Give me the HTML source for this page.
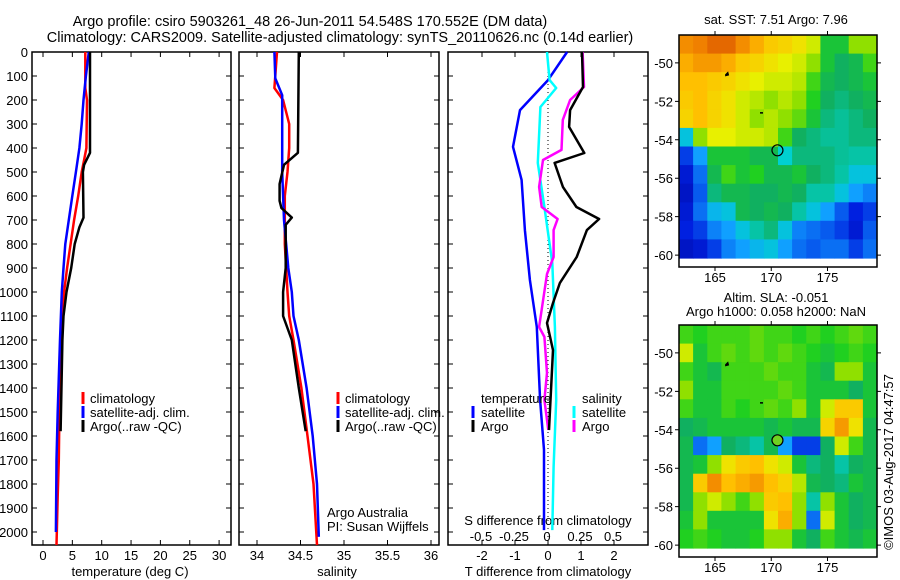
<!DOCTYPE html>
<html><head><meta charset="utf-8"><style>
html,body{margin:0;padding:0;background:#fff}
svg{display:block;font-family:"Liberation Sans",sans-serif;font-size:13px}
.tt{font-size:14.5px}
</style></head><body>
<svg id="fig" width="900" height="580" viewBox="0 0 900 580" xmlns="http://www.w3.org/2000/svg">
<text class="tt" x="310" y="26" text-anchor="middle">Argo profile: csiro 5903261_48 26-Jun-2011 54.548S 170.552E (DM data)</text>
<text class="tt" x="340" y="42" text-anchor="middle">Climatology: CARS2009. Satellite-adjusted climatology: synTS_20110626.nc (0.14d earlier)</text>
<text x="776" y="24" text-anchor="middle">sat. SST: 7.51 Argo: 7.96</text>
<text x="776" y="302" text-anchor="middle">Altim. SLA: -0.051</text>
<text x="776" y="316" text-anchor="middle">Argo h1000: 0.058 h2000: NaN</text>
<text transform="translate(893,462) rotate(-90)" text-anchor="middle">©IMOS 03-Aug-2017 04:47:57</text>
<g id="g"></g>
</svg>
<script>
// ---- data ----
const depthTicks=[0,100,200,300,400,500,600,700,800,900,1000,1100,1200,1300,1400,1500,1600,1700,1800,1900,2000];
const tempTicks=[0,5,10,15,20,25,30];
const salTicks=[34,34.5,35,35.5,36];
const tdiffTicks=[-2,-1,0,1,2];
const sdiffTicks=[-0.5,-0.25,0,0.25,0.5];
const lonTicks=[165,170,175];
const latTicks=[-50,-52,-54,-56,-58,-60];

const tempClimDepth=[0,150,200,400,450,500,600,700,800,900,1000,1200,1500,1700,1850,2054];
const tempClimVal=[7.2,7.2,7.5,7.4,7.0,6.6,6.0,5.3,4.7,4.1,3.6,3.1,2.8,2.7,2.5,2.3];
const tempSatDepth=[0,100,200,300,400,500,600,700,800,900,1000,1200,1500,1700,2000];
const tempSatVal=[7.8,7.3,6.9,6.6,6.2,5.6,5.0,4.4,3.8,3.5,3.2,2.9,2.5,2.3,2.2];
const tempArgoDepth=[0,420,470,500,690,730,800,900,1000,1100,1200,1580];
const tempArgoVal=[8.0,8.0,7.0,6.8,6.9,6.2,5.4,4.8,4.0,3.5,3.3,3.0];

const salClimDepth=[0,150,200,300,400,500,600,800,1000,1100,1200,1400,1600,1800,2054];
const salClimVal=[34.23,34.20,34.30,34.37,34.37,34.35,34.32,34.32,34.35,34.37,34.42,34.51,34.58,34.65,34.69];
const salSatDepth=[0,110,180,300,500,700,900,1000,1100,1200,1400,1600,1800,2020];
const salSatVal=[34.20,34.21,34.29,34.29,34.29,34.31,34.36,34.40,34.42,34.48,34.57,34.64,34.69,34.71];
const salArgoDepth=[0,420,470,550,620,650,690,720,900,1000,1100,1200,1400,1580];
const salArgoVal=[34.48,34.47,34.31,34.26,34.26,34.28,34.40,34.33,34.33,34.30,34.30,34.40,34.48,34.56];

const tdSatDepth=[0,117,242,395,533,742,950,1146,1450,1658,1992];
const tdSatVal=[0.58,0,-0.85,-1.06,-0.8,-0.7,-0.55,-0.34,-0.24,-0.12,-0.12];
const tdArgoDepth=[0,146,242,312,421,462,562,646,696,742,854,962,1046,1129,1242,1575];
const tdArgoVal=[1.03,1.06,0.67,0.64,1.1,0.2,0.45,0.86,1.55,1.18,0.87,0.36,0.15,-0.03,0.15,0.03];
const sdSatDepth=[0,117,150,229,462,646,879,1146,1450,1729,1992];
const sdSatVal=[0,0.02,0.07,-0.05,-0.07,-0.02,0.04,0.06,0.07,0.05,0.04];
const sdArgoDepth=[0,146,200,283,408,450,562,646,696,742,854,925,1146,1187,1337,1450,1575];
const sdArgoVal=[0.27,0.28,0.175,0.12,0.11,-0.03,-0.06,-0.04,0.08,0.05,0.05,0,-0.06,-0.02,0,-0.02,0.01];

const sstGrid=[
[0.8,0.82,0.85,0.85,0.8,0.75,0.7,0.68,0.65,0.6,0.45,0.45,0.55,0.55],
[0.75,0.78,0.78,0.75,0.7,0.68,0.65,0.62,0.6,0.55,0.45,0.4,0.42,0.5],
[0.72,0.72,0.7,0.68,0.65,0.62,0.6,0.6,0.58,0.5,0.42,0.4,0.42,0.45],
[0.7,0.72,0.68,0.65,0.6,0.58,0.55,0.58,0.55,0.48,0.4,0.38,0.4,0.42],
[0.68,0.72,0.68,0.65,0.6,0.55,0.58,0.55,0.52,0.45,0.38,0.36,0.38,0.4],
[0.3,0.55,0.62,0.62,0.6,0.6,0.58,0.5,0.4,0.38,0.36,0.36,0.38,0.38],
[0.15,0.25,0.45,0.45,0.45,0.42,0.42,0.32,0.38,0.38,0.38,0.36,0.35,0.35],
[0.1,0.2,0.42,0.5,0.45,0.48,0.42,0.42,0.45,0.4,0.38,0.35,0.3,0.3],
[0.08,0.18,0.38,0.42,0.42,0.4,0.4,0.42,0.4,0.35,0.35,0.3,0.25,0.22],
[0.1,0.2,0.28,0.3,0.42,0.4,0.42,0.4,0.35,0.3,0.25,0.18,0.12,0.15],
[0.12,0.15,0.22,0.25,0.3,0.35,0.38,0.3,0.22,0.2,0.18,0.15,0.1,0.18],
[0.08,0.1,0.15,0.22,0.25,0.28,0.3,0.25,0.2,0.18,0.2,0.2,0.15,0.2]];
const slaGrid=[
[0.5,0.48,0.5,0.5,0.5,0.52,0.5,0.5,0.48,0.5,0.48,0.5,0.52,0.5],
[0.6,0.45,0.5,0.52,0.5,0.52,0.5,0.52,0.5,0.48,0.45,0.48,0.5,0.48],
[0.5,0.45,0.42,0.5,0.5,0.5,0.52,0.5,0.5,0.45,0.42,0.55,0.55,0.45],
[0.55,0.45,0.45,0.5,0.5,0.5,0.5,0.52,0.5,0.45,0.45,0.45,0.4,0.45],
[0.5,0.45,0.45,0.5,0.48,0.5,0.52,0.5,0.55,0.45,0.6,0.7,0.7,0.45],
[0.4,0.42,0.45,0.45,0.45,0.45,0.42,0.45,0.42,0.42,0.68,0.78,0.65,0.42],
[0.42,0.2,0.25,0.4,0.38,0.35,0.42,0.25,0.15,0.15,0.4,0.6,0.5,0.42],
[0.42,0.45,0.55,0.65,0.7,0.72,0.65,0.6,0.45,0.38,0.4,0.35,0.4,0.42],
[0.42,0.7,0.8,0.72,0.75,0.78,0.72,0.68,0.58,0.42,0.4,0.38,0.45,0.42],
[0.42,0.55,0.6,0.55,0.5,0.55,0.7,0.72,0.55,0.35,0.55,0.45,0.4,0.42],
[0.45,0.55,0.45,0.45,0.45,0.45,0.65,0.75,0.55,0.2,0.6,0.45,0.4,0.42],
[0.48,0.5,0.48,0.45,0.45,0.48,0.55,0.55,0.45,0.4,0.5,0.45,0.42,0.45]];
const argoLon=170.552, argoLat=-54.548;

// ---- drawing ----
const NS="http://www.w3.org/2000/svg";
const G=document.getElementById('g');
function el(tag,attrs,parent,txt){const e=document.createElementNS(NS,tag);for(const k in attrs)e.setAttribute(k,attrs[k]);if(txt!==undefined)e.textContent=txt;(parent||G).appendChild(e);return e;}
const Y0=52,Y1=545;
const yD=d=>Y0+d*0.24;
const panels=[
 {x0:32,x1:231,sx:v=>43+5.87*v,name:'temperature'},
 {x0:239,x1:439,sx:v=>257+87*(v-34),name:'salinity'},
 {x0:448,x1:648,sx:v=>548+33*v,name:'difference'}];
const sxS=v=>547+132*v;

panels.forEach((p,i)=>{
  const r=el('rect',{x:p.x0,y:Y0,width:p.x1-p.x0,height:Y1-Y0,fill:'none',stroke:'#000','stroke-width':1.5});
  
  
  depthTicks.forEach(d=>{
    const y=yD(d);
    const t=el('path',{d:`M${p.x0},${y}h5M${p.x1},${y}h-5`,stroke:'#000','stroke-width':1});
    
    
    if(i===0){
      const l=el('text',{x:28,y:y+5,'text-anchor':'end'},G,String(d));
      
      
    }
  });
});
function xticks(p,ticks,sx,ly){
  ticks.forEach(v=>{const x=sx(v);
    const t=el('path',{d:`M${x},${Y1}v-5M${x},${Y0}v5`,stroke:'#000','stroke-width':1});
    
    
    const l=el('text',{x:x,y:ly,'text-anchor':'middle'},G,String(v));
    
    
  });
}
xticks(panels[0],tempTicks,panels[0].sx,560);
xticks(panels[1],salTicks,panels[1].sx,560);
xticks(panels[2],tdiffTicks,panels[2].sx,560);
sdiffTicks.forEach(v=>{
  const l=el('text',{x:sxS(v),y:541,'text-anchor':'middle'},G,String(v));
  
  
});
function lab(x,y,s,name,anchor){const t=el('text',{x:x,y:y,'text-anchor':anchor||'middle'},G,s);return t;}
lab(130,576,'temperature (deg C)','temperature-axis-title');
lab(337,576,'salinity','salinity-axis-title');
lab(548,576,'T difference from climatology','t-diff-axis-title');
lab(548,525,'S difference from climatology','s-diff-axis-title');

const z=el('line',{x1:548,y1:Y0,x2:548,y2:Y1,stroke:'#000','stroke-dasharray':'1,3','stroke-width':1});



function line(depths,vals,sx,color,name){
  const pts=depths.map((d,k)=>`${sx(vals[k]).toFixed(1)},${yD(d).toFixed(1)}`).join(' ');
  const l=el('polyline',{points:pts,fill:'none',stroke:color,'stroke-width':2.5,'stroke-linejoin':'round'});
  
  
}
const sT=panels[0].sx,sS=panels[1].sx,sD=panels[2].sx;
line(tempClimDepth,tempClimVal,sT,'#f00','temp-climatology-line');
line(tempSatDepth,tempSatVal,sT,'#00f','temp-satellite-line');
line(tempArgoDepth,tempArgoVal,sT,'#000','temp-argo-line');
line(salClimDepth,salClimVal,sS,'#f00','sal-climatology-line');
line(salSatDepth,salSatVal,sS,'#00f','sal-satellite-line');
line(salArgoDepth,salArgoVal,sS,'#000','sal-argo-line');
line(tdSatDepth,tdSatVal,sD,'#00f','tdiff-satellite-line');
line(sdSatDepth,sdSatVal,sxS,'#0ff','sdiff-satellite-line');
line(sdArgoDepth,sdArgoVal,sxS,'#f0f','sdiff-argo-line');
line(tdArgoDepth,tdArgoVal,sD,'#000','tdiff-argo-line');

function legendEntry(mx,tx,y,color,s){
  const m=el('rect',{x:mx-1.5,y:y-11,width:3,height:12,fill:color});
  
  
  lab(tx,y,s,'legend-entry','start');
}
[[83,90],[338,345]].forEach(([mx,tx])=>{
  legendEntry(mx,tx,403,'#f00','climatology');
  legendEntry(mx,tx,417,'#00f','satellite-adj. clim.');
  legendEntry(mx,tx,431,'#000','Argo(..raw -QC)');
});
lab(327,517,'Argo Australia','credit-argo-australia','start');
lab(327,531,'PI: Susan Wijffels','credit-pi','start');
lab(481,403,'temperature','legend-temperature-header','start');
lab(582,403,'salinity','legend-salinity-header','start');
legendEntry(473,481,417,'#00f','satellite');
legendEntry(473,481,431,'#000','Argo');
legendEntry(574,582,417,'#0ff','satellite');
legendEntry(574,582,431,'#f0f','Argo');

// ---- maps ----
const stops=[[0,[0,0,143]],[0.12,[0,32,224]],[0.25,[16,160,255]],[0.32,[0,208,208]],[0.4,[16,176,96]],[0.48,[32,208,32]],[0.55,[144,224,0]],[0.62,[232,240,0]],[0.72,[255,192,0]],[0.82,[240,128,0]],[0.9,[208,64,0]],[1,[160,0,0]]];
function cmap(v){for(let i=1;i<stops.length;i++){if(v<=stops[i][0]){const a=stops[i-1],b=stops[i],t=(v-a[0])/(b[0]-a[0]);return 'rgb('+a[1].map((c,k)=>Math.round(c+(b[1][k]-c)*t)).join(',')+')';}}return 'rgb(160,0,0)';}
const MX0=679,MX1=877,LON0=161.8,LON1=179.4;
const mxLon=l=>MX0+(l-LON0)/(LON1-LON0)*(MX1-MX0);
function map(top,grid,name,fillCircle){
  const bot=top+232, dataBot=top+223;
  const myLat=la=>top+(la-(-48.55))/(-60.15-(-48.55))*(dataBot-top);
  const rows=grid.length,cols=grid[0].length;
  const latStep=(-60.15+48.55)/rows, lonStep=(LON1-LON0)/cols;
  grid.forEach((row,r)=>row.forEach((v,c)=>{
    const x=mxLon(LON0+c*lonStep),y=myLat(-48.55+r*latStep);
    const x2=mxLon(LON0+(c+1)*lonStep),y2=myLat(-48.55+(r+1)*latStep);
    const cell=el('rect',{x:x.toFixed(1),y:y.toFixed(1),width:(x2-x+0.6).toFixed(1),height:(y2-y+0.6).toFixed(1),fill:cmap(v)});
    
    
  }));
  const f=el('rect',{x:MX0,y:top,width:MX1-MX0,height:bot-top,fill:'none',stroke:'#000','stroke-width':1.5});
  
  
  lonTicks.forEach(l=>{const x=mxLon(l);
    const t=el('path',{d:`M${x},${bot}v4M${x},${top}v-4`,stroke:'#000'});
    
    
    lab(x,bot+15,String(l),'lon-tick-label');
  });
  latTicks.forEach(la=>{const y=myLat(la);
    const t=el('path',{d:`M${MX0},${y}h-4M${MX1},${y}h4`,stroke:'#000'});
    
    
    lab(673,y+5,String(la),'lat-tick-label','end');
  });
  const i1=el('path',{d:`M${mxLon(165.9)},${myLat(-50.6)}l3,-3l1,4l-4,1z`,fill:'#000'});
  
  
  const i2=el('path',{d:`M${mxLon(169)},${myLat(-52.6)}h3`,stroke:'#000','stroke-width':1.5});
  
  
  const c=el('circle',{cx:mxLon(argoLon),cy:myLat(argoLat),r:5.5,fill:fillCircle,stroke:'#000','stroke-width':1.2});
  
  
}
map(35,sstGrid,'sst-map','none');
map(325,slaGrid,'sla-map','#70d020');
</script>
</body></html>
